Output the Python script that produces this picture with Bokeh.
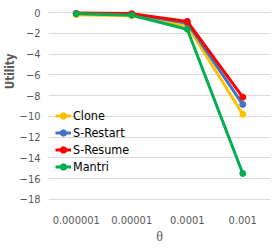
from bokeh.plotting import figure
from bokeh.models import Range1d, Legend, LegendItem, Title
from bokeh.embed import file_html
from bokeh.resources import INLINE

thetas = ["0.000001", "0.00001", "0.0001", "0.001"]
clone = [-0.2, -0.3, -1.25, -9.8]
s_restart = [-0.1, -0.15, -1.0, -8.85]
s_resume = [-0.05, -0.1, -0.85, -8.15]
mantri = [-0.1, -0.25, -1.6, -15.5]
y_ticks = [0, -2, -4, -6, -8, -10, -12, -14, -16, -18]

series = [("Clone", clone, "#FFC000"),
          ("S-Restart", s_restart, "#4472C4"),
          ("S-Resume", s_resume, "#FF0000"),
          ("Mantri", mantri, "#00B050")]

FONT = "Liberation Sans Narrow, DejaVu Sans Condensed, Liberation Sans"

p = figure(width=274, height=249, x_range=thetas, y_range=Range1d(-18.2, 0.2),
           output_backend="svg", toolbar_location=None,
           min_border_left=38, min_border_right=4, min_border_top=10, min_border_bottom=48)
p.outline_line_color = None
p.background_fill_color = "white"
p.border_fill_color = "white"

items = []
for name, vals, col in series:
    r1 = p.line(thetas, vals, line_color=col, line_width=3)
    r2 = p.scatter(thetas, vals, size=6, fill_color=col, line_color=col)
    items.append(LegendItem(label=name, renderers=[r1, r2]))

p.xgrid.grid_line_color = None
p.ygrid.grid_line_color = "#D9D9D9"
p.ygrid.grid_line_width = 1
p.yaxis.ticker = y_ticks
for ax in (p.xaxis[0], p.yaxis[0]):
    ax.axis_line_color = None
    ax.major_tick_line_color = None
    ax.minor_tick_line_color = None
    ax.major_tick_out = 0
    ax.major_tick_in = 0
    ax.minor_tick_out = 0
    ax.minor_tick_in = 0
    ax.major_label_text_font = FONT
    ax.major_label_text_font_size = "11px"
    ax.major_label_text_color = "#595959"
p.yaxis.major_label_standoff = 8
p.xaxis.major_label_standoff = 14
p.xaxis.axis_label = "θ"
p.xaxis.axis_label_text_font = "Liberation Serif"
p.xaxis.axis_label_text_font_size = "14px"
p.xaxis.axis_label_text_font_style = "normal"
p.xaxis.axis_label_text_color = "#595959"
p.xaxis.axis_label_standoff = 2

legend = Legend(items=items, location=(7, 26), border_line_color=None,
                background_fill_alpha=0, padding=0, margin=0, spacing=0,
                glyph_width=16, glyph_height=17, label_height=17, label_standoff=2,
                label_text_font=FONT, label_text_font_size="12.5px",
                label_text_color="#000000")
p.add_layout(legend)

ytitle = Title(text="Utility", align="right", offset=43, standoff=0,
               text_font=FONT, text_font_size="11.5px", text_font_style="bold",
               text_color="#595959")
p.add_layout(ytitle, "left")

open("out.html", "w").write(file_html(p, INLINE))
